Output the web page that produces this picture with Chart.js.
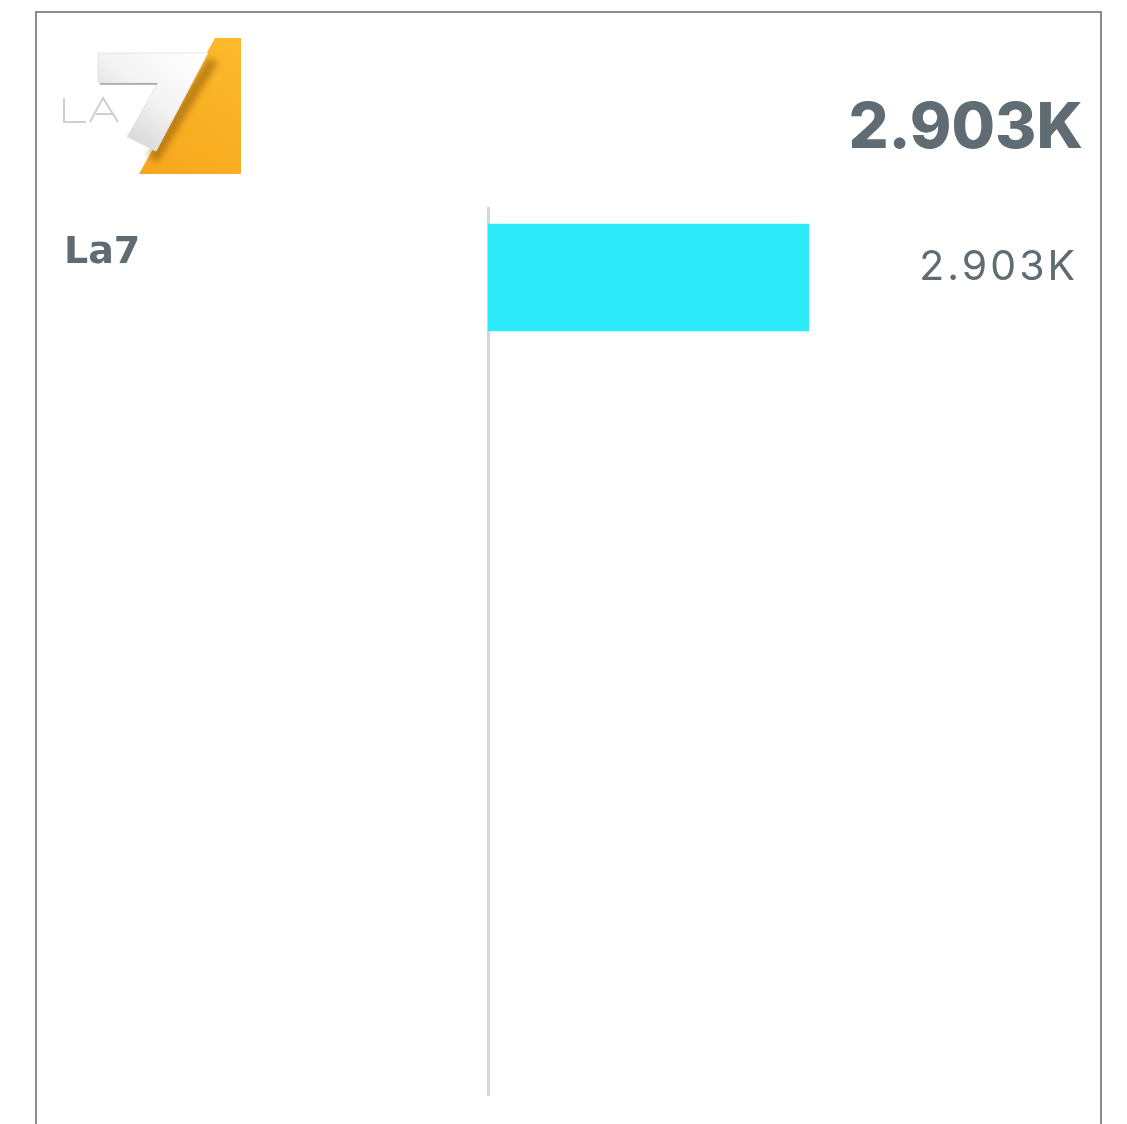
<!DOCTYPE html>
<html lang="it">
<head>
  <meta charset="UTF-8">
  <title>La7</title>
  <script src="https://cdn.jsdelivr.net/npm/chart.js"></script>
  <style>
    body { margin: 0; background: #fff; font-family: Inter, "DejaVu Sans", sans-serif; }
    .card { position: absolute; left: 35px; top: 11px; width: 1063px; height: 1200px;
            border: 2px solid #8c8c8c; background: #fff; }
    #logo { position: absolute; left: 18px; top: 20px; }
    .total { position: absolute; right: 17px; top: 81px; font-size: 63px; line-height: 1;
             font-weight: 800; color: #5f6c73; }
    .chart-box { position: absolute; left: 0; top: 179px; width: 1063px; height: 920px; }
  </style>
</head>
<body>
  <div class="card">
    <canvas id="logo" width="200" height="150"></canvas>
    <div class="total" id="total"></div>
    <div class="chart-box"><canvas id="barChart"></canvas></div>
  </div>

  <script>
    // data
    const categories = ['La7'];
    const values = [2903];
    const barColor = '#2deaf8';
    const textColor = '#5f6c73';

    const fmtK = v => (v / 1000).toFixed(3) + 'K';

    document.getElementById('total').textContent = fmtK(values.reduce((a, b) => a + b, 0));

    // logo (drawn, no image available offline)
    const lg = document.getElementById('logo').getContext('2d');
    const ox = 55, oy = 33; // page offset of logo canvas
    const P = (x, y) => [x - ox, y - oy];
    function poly(pts, fill, stroke) {
      lg.beginPath();
      pts.forEach((p, i) => { const q = P(p[0], p[1]); i ? lg.lineTo(q[0], q[1]) : lg.moveTo(q[0], q[1]); });
      lg.closePath();
      lg.fillStyle = fill;
      lg.fill();
      if (stroke) { lg.strokeStyle = stroke; lg.lineWidth = 1; lg.stroke(); }
    }
    let g = lg.createLinearGradient(...P(240, 38), ...P(140, 174));
    g.addColorStop(0, '#fdbb2c');
    g.addColorStop(1, '#f6a61c');
    poly([[215, 38], [241, 38], [241, 174], [139, 174]], g);
    // shadow of the 7
    lg.save();
    lg.filter = 'blur(3px)';
    poly([[208, 58], [218, 62], [158, 162], [148, 156]], 'rgba(150,95,10,0.6)');
    lg.restore();
    // LA letters
    lg.strokeStyle = '#cfcfcf';
    lg.lineWidth = 2;
    lg.beginPath();
    lg.moveTo(...P(64, 98)); lg.lineTo(...P(64, 122)); lg.lineTo(...P(86, 122));
    lg.moveTo(...P(90, 122)); lg.lineTo(...P(103, 98)); lg.lineTo(...P(118, 122));
    lg.moveTo(...P(96, 114)); lg.lineTo(...P(112, 114));
    lg.stroke();
    // the 7
    g = lg.createLinearGradient(...P(205, 55), ...P(130, 145));
    g.addColorStop(0, '#ffffff');
    g.addColorStop(0.55, '#f4f4f4');
    g.addColorStop(1, '#d6d6d6');
    poly([[98, 53], [208, 53], [156, 151], [127, 137], [158, 83], [98, 83]], g, '#e4e4e4');
    lg.strokeStyle = 'rgba(110,110,110,0.5)';
    lg.lineWidth = 2;
    lg.beginPath();
    lg.moveTo(...P(100, 84)); lg.lineTo(...P(157, 84));
    lg.stroke();

    // value labels at the right of each row
    const valueLabels = {
      id: 'valueLabels',
      afterDatasetsDraw(chart) {
        const ctx = chart.ctx;
        const meta = chart.getDatasetMeta(0);
        ctx.save();
        ctx.font = '400 41px Inter, "DejaVu Sans", sans-serif';
        ctx.letterSpacing = '3px';
        ctx.fillStyle = textColor;
        ctx.textAlign = 'right';
        ctx.textBaseline = 'middle';
        meta.data.forEach((bar, i) => {
          ctx.fillText(fmtK(values[i]), chart.width - 22, bar.y - 10);
        });
        ctx.restore();
      }
    };

    new Chart(document.getElementById('barChart'), {
      type: 'bar',
      data: {
        datasets: [{
          data: categories.map((c, i) => ({ x: values[i], y: i })),
          backgroundColor: barColor,
          barThickness: 107
        }]
      },
      options: {
        indexAxis: 'y',
        responsive: true,
        maintainAspectRatio: false,
        animation: false,
        layout: { padding: { top: 16, bottom: 17, right: 170, left: 27 } },
        plugins: { legend: { display: false }, tooltip: { enabled: false } },
        scales: {
          x: { display: false, min: 0, max: 4000 },
          y: {
            type: 'linear',
            reverse: true,
            offset: false,
            min: -0.5,
            max: 5.88,
            z: 1,
            afterBuildTicks: s => { s.ticks = categories.map((c, i) => ({ value: i })); },
            afterFit: s => { s.width = 424; s.paddingTop = 0; s.paddingBottom = 0; },
            grid: { display: false },
            border: { display: true, color: '#d4d7da', width: 3 },
            ticks: {
              crossAlign: 'far',
              padding: 0,
              labelOffset: -24,
              color: textColor,
              font: { family: '"DejaVu Sans"', weight: 'bold', size: 38 },
              callback: v => categories[v]
            }
          }
        }
      },
      plugins: [valueLabels]
    });
  </script>
</body>
</html>
